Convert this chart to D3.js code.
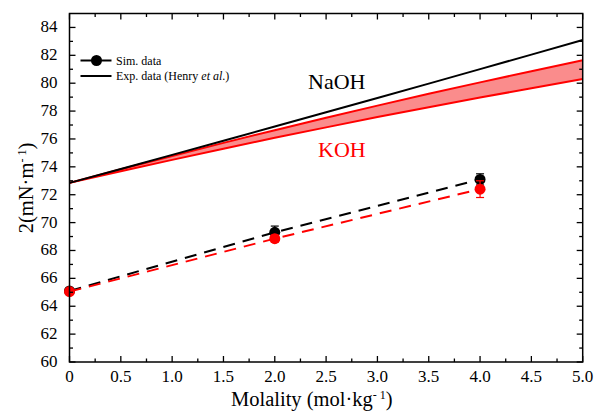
<!DOCTYPE html>
<html><head><meta charset="utf-8">
<script src="https://cdn.jsdelivr.net/npm/d3@7"></script>
<style>body{margin:0;background:#fff}svg{display:block}</style>
</head><body><svg id="c" width="598" height="414" font-family="'Liberation Serif', 'Times New Roman', 'DejaVu Serif', serif"></svg>
<script>
const molality = [0, 0.5, 1, 1.5, 2, 2.5, 3, 3.5, 4, 4.5, 5];
const naohExp = [72.85, 73.85, 74.86, 75.87, 76.89, 77.91, 78.94, 79.97, 81.01, 82.05, 83.1];
const kohExpUpper = [72.85, 73.83, 74.78, 75.72, 76.63, 77.52, 78.39, 79.24, 80.06, 80.86, 81.64];
const kohExpLower = [72.85, 73.69, 74.50, 75.30, 76.08, 76.83, 77.57, 78.28, 78.97, 79.64, 80.30];
const simMolality = [0, 2, 4];
const naohSim = [65.1, 69.3, 73.1];
const naohSimErr = [0.15, 0.45, 0.4];
const kohSim = [65.05, 68.85, 72.4];
const kohSimErr = [0.15, 0.25, 0.6];
const xTicks = [0, 0.5, 1.0, 1.5, 2.0, 2.5, 3.0, 3.5, 4.0, 4.5, 5.0];
const yTicks = [60, 62, 64, 66, 68, 70, 72, 74, 76, 78, 80, 82, 84];

const FF = "'Liberation Serif', 'Times New Roman', 'DejaVu Serif', serif";
const svg = d3.select('#c');
const L = 69.5, R = 582.7, T = 13.5, B = 362;
const x = d3.scaleLinear().domain([0, 5]).range([L, R]);
const y = d3.scaleLinear().domain([60, 85]).range([B, T]);

const g = svg.append('g');
const band = molality.map((m, i) => ({m, lo: kohExpLower[i], hi: kohExpUpper[i]}));
g.append('path').datum(band)
  .attr('d', d3.area().x(d => x(d.m)).y0(d => y(d.lo)).y1(d => y(d.hi)))
  .attr('fill', '#fa8c8c');
const line = d3.line().x(d => x(d[0])).y(d => y(d[1]));
g.append('path').datum(molality.map((m, i) => [m, kohExpUpper[i]])).attr('d', line)
  .attr('fill', 'none').attr('stroke', '#ff0000').attr('stroke-width', 2);
g.append('path').datum(molality.map((m, i) => [m, kohExpLower[i]])).attr('d', line)
  .attr('fill', 'none').attr('stroke', '#ff0000').attr('stroke-width', 2);
g.append('path').datum(molality.map((m, i) => [m, naohExp[i]])).attr('d', line)
  .attr('fill', 'none').attr('stroke', '#000').attr('stroke-width', 2);

function sim(vals, errs, color) {
  g.append('path').datum(simMolality.map((m, i) => [m, vals[i]])).attr('d', line)
    .attr('fill', 'none').attr('stroke', color).attr('stroke-width', 2)
    .attr('stroke-dasharray', '12,8');
  simMolality.forEach((m, i) => {
    g.append('circle').attr('cx', x(m)).attr('cy', y(vals[i])).attr('r', 5.5).attr('fill', color);
  });
  simMolality.forEach((m, i) => {
    const cx = x(m), y1 = y(vals[i] + errs[i]), y2 = y(vals[i] - errs[i]);
    g.append('line').attr('x1', cx).attr('x2', cx).attr('y1', y1).attr('y2', y2).attr('stroke', color).attr('stroke-width', 1.2);
    [y1, y2].forEach(yy => g.append('line').attr('x1', cx - 4).attr('x2', cx + 4).attr('y1', yy).attr('y2', yy).attr('stroke', color).attr('stroke-width', 1.2));
  });
}
sim(naohSim, naohSimErr, '#000');
sim(kohSim, kohSimErr, '#ff0000');

const ax = svg.append('g');
ax.append('rect').attr('x', L).attr('y', T).attr('width', R - L).attr('height', B - T)
  .attr('fill', 'none').attr('stroke', '#000').attr('stroke-width', 1.5);
const xMinor = d3.range(0.25, 5, 0.5);
const yMinor = d3.range(61, 85, 2);
function tk(x1, y1, x2, y2) { ax.append('line').attr('x1', x1).attr('y1', y1).attr('x2', x2).attr('y2', y2).attr('stroke', '#000').attr('stroke-width', 1.3); }
xTicks.forEach(v => { tk(x(v), B, x(v), B - 6); tk(x(v), T, x(v), T + 6); });
xMinor.forEach(v => { tk(x(v), B, x(v), B - 3.5); tk(x(v), T, x(v), T + 3.5); });
yTicks.forEach(v => { tk(L, y(v), L + 6, y(v)); tk(R, y(v), R - 6, y(v)); });
yMinor.forEach(v => { tk(L, y(v), L + 3.5, y(v)); tk(R, y(v), R - 3.5, y(v)); });

ax.selectAll('.xl').data(xTicks).enter().append('text')
  .attr('font-family', FF)
  .attr('x', d => x(d)).attr('y', 382).attr('text-anchor', 'middle')
  .attr('font-size', 17).text(d => d === 0 ? '0' : d.toFixed(1));
ax.selectAll('.yl').data(yTicks).enter().append('text')
  .attr('font-family', FF)
  .attr('x', 57.5).attr('y', d => y(d) + 5).attr('text-anchor', 'end')
  .attr('font-size', 17).text(d => d);

const xt = svg.append('text').attr('font-family', FF).attr('x', 231).attr('y', 406).attr('font-size', 20.5);
xt.append('tspan').text('Molality (mol·kg');
xt.append('tspan').attr('font-size', 12).attr('dy', -7).text('- 1');
xt.append('tspan').attr('dy', 7).text(')');

const yt = svg.append('text').attr('font-family', FF).attr('transform', 'translate(33,188) rotate(-90)').attr('text-anchor', 'middle').attr('font-size', 20.5);
yt.append('tspan').text('2(mN·m');
yt.append('tspan').attr('font-size', 12).attr('dy', -7).text('- 1');
yt.append('tspan').attr('dy', 7).text(')');

svg.append('text').attr('font-family', FF).attr('x', 308).attr('y', 89).attr('font-size', 22).attr('fill', '#000').text('NaOH');
svg.append('text').attr('font-family', FF).attr('x', 318).attr('y', 157).attr('font-size', 22).attr('fill', '#ff0000').text('KOH');

const lg = svg.append('g');
lg.append('line').attr('x1', 80.5).attr('x2', 111.5).attr('y1', 60.5).attr('y2', 60.5).attr('stroke', '#000').attr('stroke-width', 2);
lg.append('circle').attr('cx', 96.5).attr('cy', 60.5).attr('r', 5.5).attr('fill', '#000');
lg.append('text').attr('font-family', FF).attr('x', 116).attr('y', 64.5).attr('font-size', 12).text('Sim. data');
lg.append('line').attr('x1', 80.5).attr('x2', 111.5).attr('y1', 76).attr('y2', 76).attr('stroke', '#000').attr('stroke-width', 2);
const lt = lg.append('text').attr('font-family', FF).attr('x', 116).attr('y', 80).attr('font-size', 12);
lt.append('tspan').text('Exp. data (Henry ');
lt.append('tspan').attr('font-style', 'italic').text('et al');
lt.append('tspan').text('.)');
</script></body></html>
